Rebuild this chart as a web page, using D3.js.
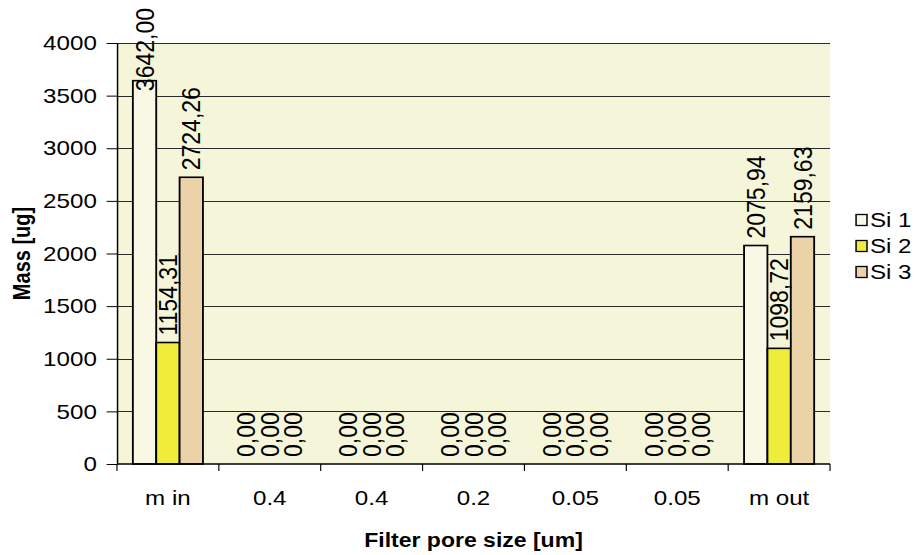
<!DOCTYPE html>
<html>
<head>
<meta charset="utf-8">
<script src="https://cdn.jsdelivr.net/npm/d3@7"></script>
<style>
  body { margin: 0; background: #fff; }
  svg { display: block; }
  text { font-family: "Liberation Sans", Arial, sans-serif; fill: #000; }
</style>
</head>
<body>
<svg id="chart"></svg>
<script>
// data
const categories = ['m in', '0.4', '0.4', '0.2', '0.05', '0.05', 'm out']
const seriesNames = ['Si 1', 'Si 2', 'Si 3']
const si1 = [3642.00, 0, 0, 0, 0, 0, 2075.94]
const si2 = [1154.31, 0, 0, 0, 0, 0, 1098.72]
const si3 = [2724.26, 0, 0, 0, 0, 0, 2159.63]
const yTicks = [0, 500, 1000, 1500, 2000, 2500, 3000, 3500, 4000]

const colors = ['#f8f8e4', '#f0ec3a', '#ebd2a9']
const plotBg = '#f5f5da'

function main () {
  // drawn at 800 wide, then stretched to 921 like the original
  const W = 800
  const H = 555
  const svg = d3.select('#chart')
    .attr('width', 921).attr('height', H)
    .attr('viewBox', `0 0 ${W} ${H}`)
    .attr('preserveAspectRatio', 'none')

  const left = 101.6
  const right = 721
  const top = 43
  const bottom = 464

  const series = [si1, si2, si3]
  const idx = d3.range(categories.length)

  const x0 = d3.scaleBand().domain(idx).range([left, right]).padding(0)
  const x1 = d3.scaleBand().domain(d3.range(series.length))
    .range([0, x0.bandwidth()]).paddingInner(0).paddingOuter(0.68)
  const y = d3.scaleLinear().domain([0, 4000]).range([bottom, top])

  // plot background
  svg.append('rect')
    .attr('x', left).attr('y', top)
    .attr('width', right - left).attr('height', bottom - top)
    .attr('fill', plotBg)

  // gridlines
  svg.append('g').selectAll('line')
    .data(yTicks.filter(d => d > 0))
    .join('line')
    .attr('x1', left).attr('x2', right)
    .attr('y1', d => Math.round(y(d)) + 0.5).attr('y2', d => Math.round(y(d)) + 0.5)
    .attr('stroke', '#2a2a2a').attr('stroke-width', 1)

  // flatten the bars
  const bars = []
  idx.forEach(i => {
    series.forEach((s, j) => {
      bars.push({ i: i, j: j, v: s[i] })
    })
  })

  const bgLayer = svg.append('g')
  const barLayer = svg.append('g')
  const labelLayer = svg.append('g')

  barLayer.selectAll('rect')
    .data(bars.filter(d => d.v > 0))
    .join('rect')
    .attr('x', d => x0(d.i) + x1(d.j))
    .attr('y', d => y(d.v))
    .attr('width', x1.bandwidth())
    .attr('height', d => y(0) - y(d.v))
    .attr('fill', d => colors[d.j])
    .attr('stroke', '#000')
    .attr('stroke-width', 1.6)

  // value labels, comma as decimal sign
  const fmt = v => d3.format('.2f')(v).replace('.', ',')
  const gap = 7
  labelLayer.selectAll('text')
    .data(bars)
    .join('text')
    .text(d => fmt(d.v))
    .attr('font-size', 23)
    .attr('text-anchor', 'start')
    .attr('dominant-baseline', 'central')
    .each(function (d) {
      const len = this.getComputedTextLength()
      const cx = x0(d.i) + x1(d.j) + x1.bandwidth() / 2
      // keep the label inside the chart at the top
      const y0 = Math.max(y(d.v) - gap, 8 + len)
      d3.select(this).attr('transform', `translate(${cx},${y0}) rotate(-90)`)
      if (d.j === 1 && d.v > 0) {
        bgLayer.append('rect')
          .attr('x', x0(d.i) + x1(d.j) + 1)
          .attr('y', y0 - len - 2)
          .attr('width', x1.bandwidth() - 2)
          .attr('height', y(d.v) - (y0 - len - 2))
          .attr('fill', plotBg)
      }
    })

  // y axis
  const yAxis = d3.axisLeft(y).tickValues(yTicks).tickFormat(d3.format('d'))
    .tickSizeInner(9).tickSizeOuter(0).tickPadding(8.5)
  const gy = svg.append('g').attr('transform', `translate(${left},0)`).call(yAxis)
  gy.select('.domain').attr('stroke', '#000').attr('stroke-width', 1.3)
  gy.selectAll('.tick line').attr('stroke', '#000')
  gy.selectAll('.tick text')
    .attr('font-size', 21).attr('font-family', '"Liberation Sans", Arial, sans-serif').attr('fill', '#000')

  // x axis: line, boundary ticks, centred labels
  svg.append('line')
    .attr('x1', left).attr('x2', right)
    .attr('y1', bottom).attr('y2', bottom)
    .attr('stroke', '#000').attr('stroke-width', 1.3)
  const bounds = idx.map(i => x0(i)).concat([right])
  svg.append('g').selectAll('line')
    .data(bounds)
    .join('line')
    .attr('x1', d => d).attr('x2', d => d)
    .attr('y1', bottom).attr('y2', bottom + 7)
    .attr('stroke', '#000')
  svg.append('g').selectAll('text')
    .data(idx)
    .join('text')
    .attr('x', i => x0(i) + x0.bandwidth() / 2)
    .attr('y', 505)
    .attr('text-anchor', 'middle')
    .attr('font-size', 21)
    .text(i => categories[i])

  // axis titles
  svg.append('text')
    .attr('x', (left + right) / 2).attr('y', 547)
    .attr('text-anchor', 'middle')
    .attr('font-size', 20).attr('font-weight', 'bold')
    .text('Filter pore size [um]')
  svg.append('text')
    .attr('transform', `translate(19,${(top + bottom) / 2}) rotate(-90)`)
    .attr('text-anchor', 'middle')
    .attr('dominant-baseline', 'central')
    .attr('font-size', 20).attr('font-weight', 'bold')
    .text('Mass [ug]')

  // legend
  const legend = svg.append('g').selectAll('g')
    .data(seriesNames)
    .join('g')
    .attr('transform', (d, j) => `translate(743.6,${220 + j * 26})`)
  legend.append('rect')
    .attr('x', 0).attr('y', -5.5)
    .attr('width', 9.5).attr('height', 11)
    .attr('fill', (d, j) => colors[j])
    .attr('stroke', '#000').attr('stroke-width', 1.3)
  legend.append('text')
    .attr('x', 12).attr('y', 0)
    .attr('dominant-baseline', 'central')
    .attr('font-size', 21)
    .text(d => d)
}

main()
</script>
</body>
</html>
